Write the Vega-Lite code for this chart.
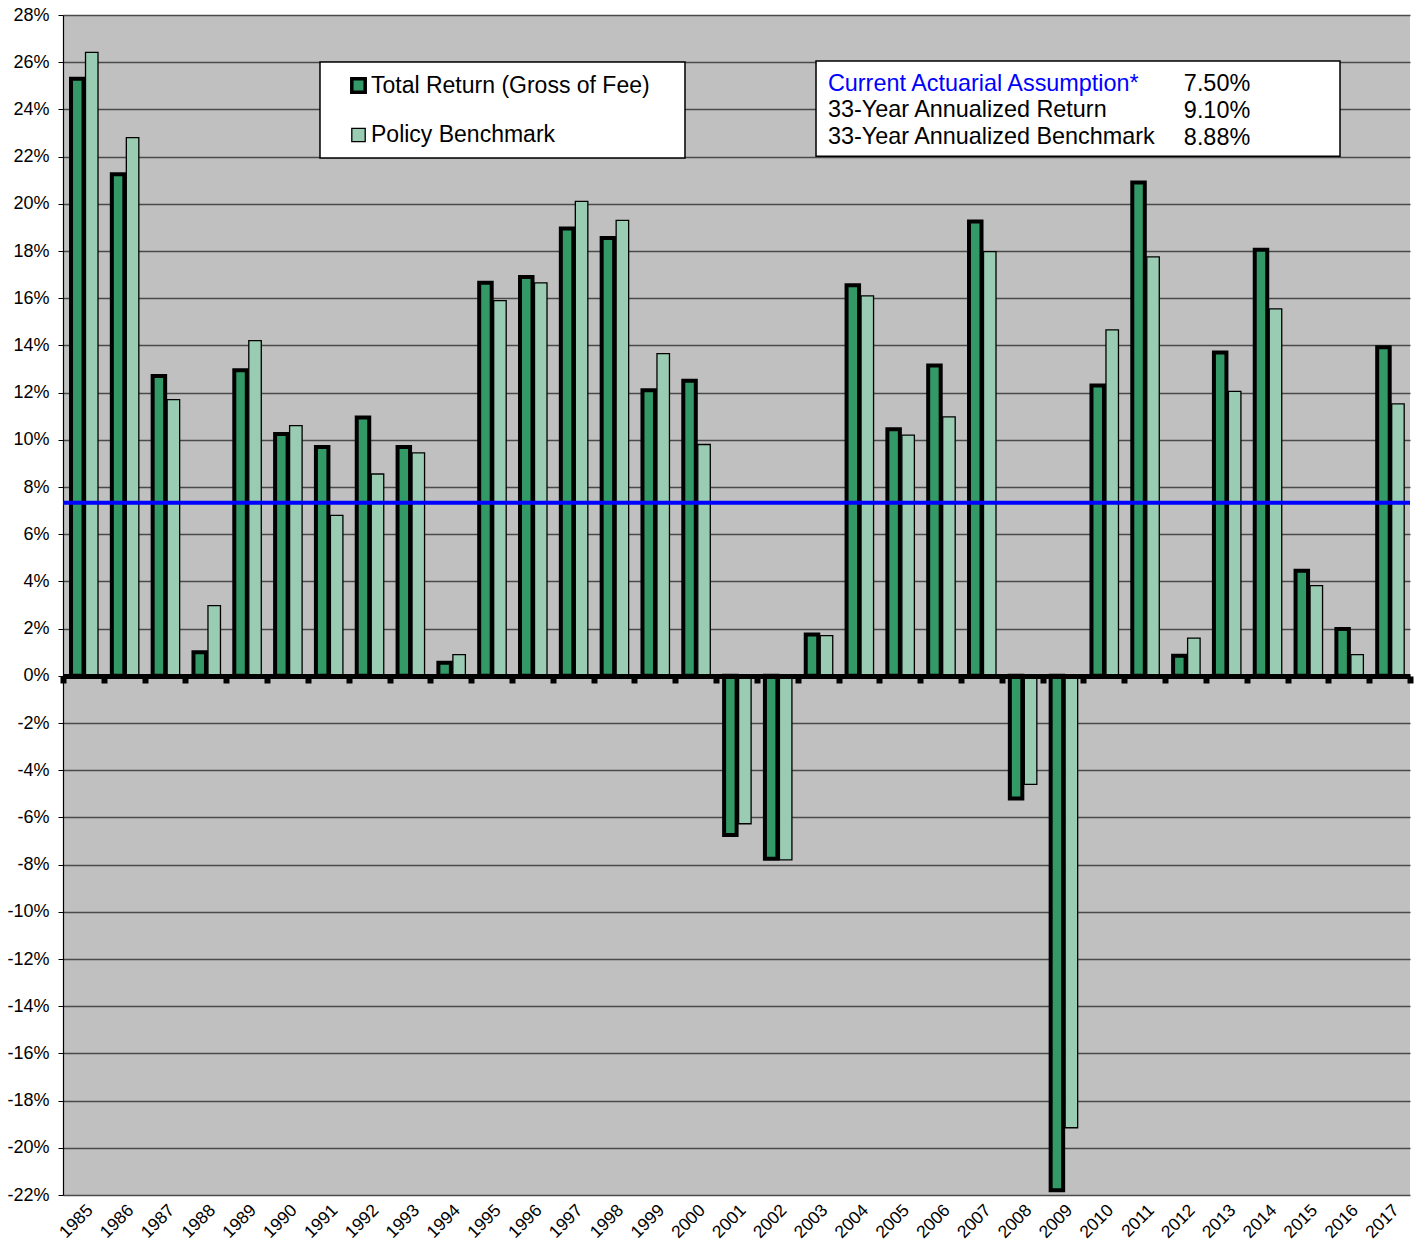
{
  "$schema": "https://vega.github.io/schema/vega-lite/v6.json",
  "autosize": "none",
  "padding": {"left": 63, "top": 15, "right": 10, "bottom": 49},
  "width": 1347,
  "height": 1180,
  "background": "white",
  "view": {"fill": "#c0c0c0", "stroke": null},
  "config": {
    "font": "Liberation Sans",
    "axis": {"labelFont": "Liberation Sans", "labelColor": "black"},
    "legend": {"labelFont": "Liberation Sans"}
  },
  "datasets": {
    "returns": [
      {"year": "1985", "series": "Total Return (Gross of Fee)", "value": 25.3},
      {"year": "1985", "series": "Policy Benchmark", "value": 26.42},
      {"year": "1986", "series": "Total Return (Gross of Fee)", "value": 21.25},
      {"year": "1986", "series": "Policy Benchmark", "value": 22.8},
      {"year": "1987", "series": "Total Return (Gross of Fee)", "value": 12.7},
      {"year": "1987", "series": "Policy Benchmark", "value": 11.7},
      {"year": "1988", "series": "Total Return (Gross of Fee)", "value": 1.0},
      {"year": "1988", "series": "Policy Benchmark", "value": 2.97},
      {"year": "1989", "series": "Total Return (Gross of Fee)", "value": 12.95},
      {"year": "1989", "series": "Policy Benchmark", "value": 14.2},
      {"year": "1990", "series": "Total Return (Gross of Fee)", "value": 10.25},
      {"year": "1990", "series": "Policy Benchmark", "value": 10.6},
      {"year": "1991", "series": "Total Return (Gross of Fee)", "value": 9.7},
      {"year": "1991", "series": "Policy Benchmark", "value": 6.8},
      {"year": "1992", "series": "Total Return (Gross of Fee)", "value": 10.95},
      {"year": "1992", "series": "Policy Benchmark", "value": 8.55},
      {"year": "1993", "series": "Total Return (Gross of Fee)", "value": 9.7},
      {"year": "1993", "series": "Policy Benchmark", "value": 9.45},
      {"year": "1994", "series": "Total Return (Gross of Fee)", "value": 0.55},
      {"year": "1994", "series": "Policy Benchmark", "value": 0.9},
      {"year": "1995", "series": "Total Return (Gross of Fee)", "value": 16.65},
      {"year": "1995", "series": "Policy Benchmark", "value": 15.9},
      {"year": "1996", "series": "Total Return (Gross of Fee)", "value": 16.9},
      {"year": "1996", "series": "Policy Benchmark", "value": 16.65},
      {"year": "1997", "series": "Total Return (Gross of Fee)", "value": 18.95},
      {"year": "1997", "series": "Policy Benchmark", "value": 20.1},
      {"year": "1998", "series": "Total Return (Gross of Fee)", "value": 18.55},
      {"year": "1998", "series": "Policy Benchmark", "value": 19.3},
      {"year": "1999", "series": "Total Return (Gross of Fee)", "value": 12.1},
      {"year": "1999", "series": "Policy Benchmark", "value": 13.65},
      {"year": "2000", "series": "Total Return (Gross of Fee)", "value": 12.5},
      {"year": "2000", "series": "Policy Benchmark", "value": 9.8},
      {"year": "2001", "series": "Total Return (Gross of Fee)", "value": -6.75},
      {"year": "2001", "series": "Policy Benchmark", "value": -6.27},
      {"year": "2002", "series": "Total Return (Gross of Fee)", "value": -7.75},
      {"year": "2002", "series": "Policy Benchmark", "value": -7.8},
      {"year": "2003", "series": "Total Return (Gross of Fee)", "value": 1.75},
      {"year": "2003", "series": "Policy Benchmark", "value": 1.7},
      {"year": "2004", "series": "Total Return (Gross of Fee)", "value": 16.55},
      {"year": "2004", "series": "Policy Benchmark", "value": 16.1},
      {"year": "2005", "series": "Total Return (Gross of Fee)", "value": 10.45},
      {"year": "2005", "series": "Policy Benchmark", "value": 10.2},
      {"year": "2006", "series": "Total Return (Gross of Fee)", "value": 13.15},
      {"year": "2006", "series": "Policy Benchmark", "value": 10.97},
      {"year": "2007", "series": "Total Return (Gross of Fee)", "value": 19.25},
      {"year": "2007", "series": "Policy Benchmark", "value": 17.97},
      {"year": "2008", "series": "Total Return (Gross of Fee)", "value": -5.2},
      {"year": "2008", "series": "Policy Benchmark", "value": -4.6},
      {"year": "2009", "series": "Total Return (Gross of Fee)", "value": -21.8},
      {"year": "2009", "series": "Policy Benchmark", "value": -19.15},
      {"year": "2010", "series": "Total Return (Gross of Fee)", "value": 12.3},
      {"year": "2010", "series": "Policy Benchmark", "value": 14.66},
      {"year": "2011", "series": "Total Return (Gross of Fee)", "value": 20.9},
      {"year": "2011", "series": "Policy Benchmark", "value": 17.75},
      {"year": "2012", "series": "Total Return (Gross of Fee)", "value": 0.85},
      {"year": "2012", "series": "Policy Benchmark", "value": 1.6},
      {"year": "2013", "series": "Total Return (Gross of Fee)", "value": 13.7},
      {"year": "2013", "series": "Policy Benchmark", "value": 12.05},
      {"year": "2014", "series": "Total Return (Gross of Fee)", "value": 18.05},
      {"year": "2014", "series": "Policy Benchmark", "value": 15.55},
      {"year": "2015", "series": "Total Return (Gross of Fee)", "value": 4.45},
      {"year": "2015", "series": "Policy Benchmark", "value": 3.82},
      {"year": "2016", "series": "Total Return (Gross of Fee)", "value": 1.98},
      {"year": "2016", "series": "Policy Benchmark", "value": 0.9},
      {"year": "2017", "series": "Total Return (Gross of Fee)", "value": 13.92},
      {"year": "2017", "series": "Policy Benchmark", "value": 11.52}
    ]
  },
  "layer": [
    {
      "data": {"name": "returns"},
      "mark": {"type": "bar", "stroke": "black"},
      "encoding": {
        "x": {
          "field": "year",
          "type": "nominal",
          "title": null,
          "scale": {"paddingInner": 0, "paddingOuter": 0},
          "axis": {
            "orient": "bottom",
            "offset": -519,
            "zindex": 1,
            "domainColor": "black",
            "domainWidth": 5,
            "tickBand": "extent",
            "tickColor": "black",
            "tickWidth": 6,
            "tickSize": 7,
            "labelAngle": -45,
            "labelPadding": 518,
            "labelFontSize": 17.5,
            "labelOverlap": false,
            "grid": false
          }
        },
        "xOffset": {
          "field": "series",
          "type": "nominal",
          "sort": ["Total Return (Gross of Fee)", "Policy Benchmark"],
          "scale": {"paddingInner": 0.138, "paddingOuter": 0.4765, "align": 0.58}
        },
        "y": {
          "field": "value",
          "type": "quantitative",
          "title": null,
          "scale": {"domain": [-22, 28], "nice": false, "zero": false},
          "axis": {
            "tickCount": 25,
            "labelExpr": "datum.value + '%'",
            "labelFontSize": 18,
            "labelPadding": 9,
            "tickSize": 5,
            "tickColor": "black",
            "domainColor": "black",
            "domainWidth": 1.2,
            "grid": true,
            "gridColor": "#4a4a4a",
            "gridWidth": 1.3
          }
        },
        "color": {
          "field": "series",
          "type": "nominal",
          "sort": ["Total Return (Gross of Fee)", "Policy Benchmark"],
          "scale": {"domain": ["Total Return (Gross of Fee)", "Policy Benchmark"], "range": ["#339966", "#99ccb2"]},
          "legend": {
            "title": null,
            "orient": "none",
            "legendX": 284,
            "legendY": 59,
            "padding": 0,
            "symbolType": "square",
            "symbolSize": 180,
            "symbolStrokeColor": "black",
            "symbolStrokeWidth": 1.3,
            "labelFontSize": 23,
            "labelColor": "black",
            "labelOffset": 1,
            "labelLimit": 500,
            "rowPadding": 23.5,
            "encode": {
              "symbols": {
                "update": {
                  "strokeWidth": {"signal": "datum.value === 'Total Return (Gross of Fee)' ? 3.5 : 1.3"}
                }
              }
            }
          }
        },
        "strokeWidth": {
          "condition": {"test": "datum.series === 'Total Return (Gross of Fee)'", "value": 4},
          "value": 1.3
        }
      }
    },
    {
      "data": {"values": [{}]},
      "mark": {"type": "rule", "stroke": "#0000ff", "strokeWidth": 4},
      "encoding": {"y": {"datum": 7.33}}
    },
    {
      "data": {"values": [{}]},
      "mark": {"type": "rect", "fill": "white", "stroke": "black", "strokeWidth": 1.5},
      "encoding": {
        "x": {"datum": "1991", "bandPosition": 0.296},
        "x2": {"datum": "2000", "bandPosition": 0.238},
        "y": {"datum": 26.01},
        "y2": {"datum": 21.94}
      }
    },
    {
      "data": {"values": [{}]},
      "mark": {"type": "rect", "fill": "white", "stroke": "black", "strokeWidth": 1.5},
      "encoding": {
        "x": {"datum": "2003", "bandPosition": 0.448},
        "x2": {"datum": "2016", "bandPosition": 0.285},
        "y": {"datum": 26.05},
        "y2": {"datum": 22.02}
      }
    },
    {
      "data": {"values": [{}]},
      "mark": {"type": "text", "align": "left", "baseline": "alphabetic", "fontSize": 23.4, "font": "Liberation Sans", "color": "#0000ff"},
      "encoding": {
        "x": {"datum": "2003", "bandPosition": 0.74},
        "y": {"datum": 24.77},
        "text": {"value": "Current Actuarial Assumption*"}
      }
    },
    {
      "data": {"values": [{}]},
      "mark": {"type": "text", "align": "left", "baseline": "alphabetic", "fontSize": 23.4, "font": "Liberation Sans", "color": "black", "lineHeight": 26.8},
      "encoding": {
        "x": {"datum": "2003", "bandPosition": 0.74},
        "y": {"datum": 23.68},
        "text": {"value": ["33-Year Annualized Return", "33-Year Annualized Benchmark"]}
      }
    },
    {
      "data": {"values": [{}]},
      "mark": {"type": "text", "align": "left", "baseline": "alphabetic", "fontSize": 23.4, "font": "Liberation Sans", "color": "black", "lineHeight": 26.8},
      "encoding": {
        "x": {"datum": "2012", "bandPosition": 0.46},
        "y": {"datum": 24.77},
        "text": {"value": ["7.50%", "9.10%", "8.88%"]}
      }
    }
  ]
}
